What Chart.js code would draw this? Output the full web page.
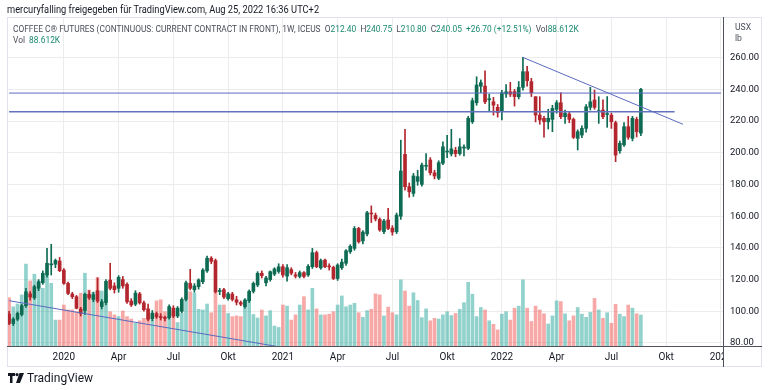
<!DOCTYPE html>
<html>
<head>
<meta charset="utf-8">
<script src="https://cdn.jsdelivr.net/npm/chart.js@4.4.0/dist/chart.umd.min.js"></script>
<style>
    html, body { margin: 0; padding: 0; background: #fff; }
    #wrap { position: relative; width: 768px; height: 390px; overflow: hidden; font-family: Roboto, 'Liberation Sans', sans-serif; }
    #chart { position: absolute; left: 0; top: 0; }
    .txt { position: absolute; white-space: nowrap; transform-origin: 0 0; line-height: 1; }
    .up { color: #1b8a6f; }
    .lbl { color: #4a4e59; }
</style>
</head>
<body>
<div id="wrap">
    <canvas id="chart" width="768" height="390"></canvas>
    <div class="txt" style="left:7px; top:5px; font-size:10px; color:#131722; transform:scaleX(0.93);">mercuryfalling freigegeben für TradingView.com, Aug 25, 2022 16:36 UTC+2</div>
    <div class="txt lbl" style="left:13px; top:25px; font-size:9px; transform:scaleX(0.93);">COFFEE C® FUTURES (CONTINUOUS: CURRENT CONTRACT IN FRONT), 1W, ICEUS&nbsp;&nbsp;O<span class="up">212.40</span>&nbsp;&nbsp;H<span class="up">240.75</span>&nbsp;&nbsp;L<span class="up">210.80</span>&nbsp;&nbsp;C<span class="up">240.05</span>&nbsp;&nbsp;<span class="up">+26.70 (+12.51%)</span>&nbsp;&nbsp;Vol<span class="up">88.612K</span></div>
    <div class="txt lbl" style="left:13px; top:36px; font-size:9px; transform:scaleX(0.93);">Vol&nbsp;&nbsp;<span class="up">88.612K</span></div>
    <div class="txt lbl" style="left:735px; top:23px; font-size:8.6px;">USX</div>
    <div class="txt lbl" style="left:735px; top:34px; font-size:8.6px;">lb</div>
    <div class="txt" style="left:8px; top:372px; font-size:12px; color:#131722;">
        <svg width="16" height="10" viewBox="0 0 16 10" style="vertical-align:-1px;margin-right:3px;">
            <path d="M0 0h7v3H4.5v7H2V3H0z" fill="#131722"/>
            <circle cx="9" cy="1.6" r="1.6" fill="#131722"/>
            <path d="M11.5 0H16L12 10H8z" fill="#131722"/>
        </svg>TradingView
    </div>
</div>
<script>
// Weekly KC1! candles, first week 2019-10-07
const firstWeek = Date.UTC(2019, 9, 7);
const weekCount = 170;          // candles plus empty weeks to the right
const monthNames = ['Jan', 'Feb', 'Mär', 'Apr', 'Mai', 'Jun', 'Jul', 'Aug', 'Sep', 'Okt', 'Nov', 'Dez'];
const quarterMonths = [0, 3, 6, 9];
const priceTicks = [80, 100, 120, 140, 160, 180, 200, 220, 240, 260];

const opens = [
    98.3, 92.3, 95.0, 98.0, 103.5, 111.0, 108.5, 114.5, 118.0, 123.0,
    129.3, 129.7, 131.7, 126.0, 117.6, 110.9, 109.2, 101.4, 100.5, 110.7,
    107.5, 113.0, 103.0, 105.5, 119.7, 116.0, 114.5, 120.0, 117.0, 106.5,
    104.5, 111.0, 105.3, 101.5, 95.2, 98.5, 96.5, 96.0, 96.0, 102.0,
    97.0, 100.0, 107.5, 117.6, 113.6, 115.5, 118.7, 125.5, 133.5, 132.0,
    112.5, 113.6, 108.0, 110.9, 107.3, 105.5, 103.0, 106.7, 112.6, 116.6,
    124.0, 118.0, 120.0, 123.5, 125.1, 128.1, 122.2, 126.3, 123.0, 122.0,
    124.4, 122.9, 128.1, 137.0, 127.4, 132.3, 128.3, 127.7, 120.7, 127.5,
    130.3, 137.6, 139.7, 152.3, 144.4, 148.8, 161.6, 160.5, 158.0, 150.2,
    157.6, 152.5, 150.2, 160.0, 199.0, 178.6, 174.4, 182.0, 180.1, 191.5,
    195.5, 187.4, 183.9, 193.4, 200.5, 199.3, 201.6, 199.5, 203.0, 202.8,
    219.6, 231.6, 242.0, 242.1, 233.5, 232.2, 228.7, 226.0, 237.2, 238.5,
    238.6, 235.4, 241.3, 251.2, 244.9, 235.4, 223.8, 221.8, 219.6, 221.1,
    227.4, 231.6, 222.8, 224.5, 221.1, 209.1, 211.2, 215.4, 228.7, 233.3,
    226.0, 227.0, 224.2, 223.8, 219.0, 201.3, 205.0, 216.5, 209.1, 221.1,
    212.4
];
const highs = [
    100.0, 96.0, 99.5, 104.5, 114.5, 112.5, 116.5, 120.0, 125.5, 139.7,
    142.3, 133.0, 134.0, 127.0, 118.5, 112.0, 110.0, 102.5, 111.5, 113.0,
    112.0, 121.0, 107.5, 120.0, 130.3, 118.0, 122.5, 122.0, 118.0, 108.0,
    113.0, 112.0, 106.5, 104.5, 100.5, 99.5, 98.5, 97.0, 104.0, 103.5,
    103.0, 108.5, 119.0, 126.5, 117.5, 120.5, 127.0, 134.9, 134.5, 133.0,
    114.5, 114.5, 112.0, 112.0, 109.5, 106.5, 108.0, 113.5, 118.5, 125.0,
    125.5, 122.0, 125.5, 127.5, 130.0, 129.5, 129.5, 127.5, 124.5, 125.5,
    125.0, 129.5, 139.7, 138.0, 133.0, 133.0, 130.0, 128.5, 130.0, 133.0,
    139.0, 142.0, 153.5, 153.0, 151.0, 163.0, 166.5, 162.0, 159.0, 158.0,
    165.0, 154.0, 162.0, 208.0, 214.8, 181.0, 187.0, 189.0, 193.5, 199.5,
    197.0, 189.0, 195.0, 207.0, 211.0, 214.8, 203.5, 209.0, 205.0, 223.0,
    234.5, 248.0, 246.0, 251.8, 237.0, 235.0, 230.5, 239.5, 243.0, 244.5,
    240.0, 245.0, 260.2, 254.5, 247.0, 235.4, 235.4, 223.0, 227.5, 230.0,
    233.0, 237.9, 227.0, 226.0, 222.0, 214.5, 217.0, 230.5, 241.3, 239.6,
    235.4, 233.5, 235.5, 225.0, 220.0, 207.5, 219.0, 223.0, 223.0, 222.5,
    240.75
];
const lows = [
    91.5, 91.0, 94.0, 97.0, 102.5, 107.0, 107.5, 113.0, 117.0, 121.5,
    122.9, 127.5, 125.0, 117.0, 110.5, 108.0, 101.5, 97.0, 98.0, 107.5,
    106.0, 105.5, 101.5, 104.0, 113.5, 111.5, 112.0, 114.5, 105.0, 103.0,
    103.5, 104.5, 100.0, 94.0, 94.0, 95.5, 94.5, 94.0, 95.0, 96.0,
    96.0, 99.0, 106.5, 113.5, 112.0, 114.0, 117.5, 124.5, 130.0, 111.5,
    110.5, 108.0, 107.0, 106.5, 104.0, 103.5, 102.0, 105.5, 111.5, 115.5,
    121.0, 116.0, 119.0, 122.5, 124.0, 121.5, 119.0, 123.0, 121.0, 121.0,
    121.0, 122.0, 127.0, 127.5, 126.5, 127.5, 126.0, 120.0, 119.5, 126.5,
    129.0, 136.5, 138.5, 143.0, 142.5, 147.5, 156.0, 157.0, 150.5, 149.0,
    151.5, 148.0, 149.0, 158.0, 176.5, 172.0, 172.5, 179.5, 179.0, 189.0,
    186.0, 183.5, 183.0, 192.5, 197.0, 198.0, 197.5, 198.5, 198.0, 202.0,
    218.5, 230.0, 238.0, 231.0, 226.0, 223.8, 222.5, 220.7, 235.0, 235.5,
    229.5, 234.0, 239.6, 242.0, 235.5, 219.5, 218.0, 209.8, 215.0, 213.3,
    225.0, 221.5, 218.5, 219.0, 209.0, 201.8, 209.5, 213.0, 227.0, 227.5,
    218.6, 221.5, 216.1, 215.4, 194.4, 199.7, 204.0, 208.5, 207.5, 210.0,
    210.8
];
const closes = [
    92.3, 95.1, 98.7, 103.5, 112.3, 109.0, 115.5, 118.6, 124.0, 130.3,
    129.9, 132.1, 125.6, 117.6, 111.3, 109.2, 101.9, 98.7, 110.7, 108.5,
    110.5, 106.5, 106.0, 118.9, 114.5, 113.6, 121.4, 116.0, 106.0, 104.0,
    111.5, 105.3, 101.0, 95.0, 98.9, 96.5, 96.0, 95.5, 103.0, 97.0,
    102.0, 107.5, 118.0, 114.5, 116.0, 119.8, 126.0, 133.5, 131.5, 112.3,
    113.0, 109.0, 111.0, 107.5, 105.7, 104.5, 107.0, 112.6, 117.6, 124.0,
    122.5, 121.0, 125.0, 126.7, 128.1, 122.9, 127.5, 124.0, 122.2, 124.4,
    122.0, 128.4, 137.0, 128.1, 132.0, 128.1, 128.0, 120.7, 129.2, 131.0,
    138.2, 141.0, 152.3, 143.9, 150.0, 162.2, 161.4, 158.3, 151.3, 157.0,
    152.3, 150.0, 160.7, 188.5, 178.6, 175.4, 185.4, 185.0, 192.3, 191.9,
    187.4, 185.4, 193.8, 203.8, 200.9, 202.5, 199.5, 203.8, 203.4, 221.8,
    232.9, 242.8, 244.3, 232.2, 233.9, 230.1, 225.3, 237.9, 238.5, 237.0,
    235.5, 241.3, 251.2, 245.5, 237.9, 223.8, 220.7, 219.6, 221.8, 228.0,
    231.6, 222.8, 225.0, 221.1, 209.8, 213.3, 215.4, 229.0, 232.2, 228.7,
    226.5, 222.8, 224.8, 219.6, 198.6, 206.0, 216.5, 209.8, 221.8, 213.3,
    240.05
];
// volume in thousands of contracts
const volumes = [
    138, 112, 120, 146, 234, 186, 205, 186, 165, 205,
    179, 74, 74, 117, 103, 103, 98, 151, 208, 160,
    154, 196, 157, 146, 98, 89, 84, 100, 84, 77,
    65, 72, 79, 89, 74, 129, 132, 98, 84, 98,
    67, 93, 132, 155, 151, 105, 103, 120, 95, 155,
    117, 117, 93, 84, 86, 84, 133, 155, 90, 80,
    103, 86, 101, 57, 53, 117, 114, 74, 89, 117,
    141, 103, 165, 106, 89, 89, 91, 98, 117, 143,
    112, 117, 122, 95, 82, 101, 105, 149, 146, 86,
    111, 95, 89, 189, 157, 114, 152, 130, 81, 106,
    72, 79, 77, 89, 98, 87, 93, 105, 124, 182,
    148, 84, 110, 103, 72, 62, 46, 91, 98, 74,
    108, 114, 189, 108, 70, 114, 103, 92, 63, 86,
    129, 127, 92, 72, 86, 110, 91, 82, 96, 136,
    103, 79, 95, 65, 119, 91, 84, 117, 108, 92,
    88.612
];
const volumeMax = 940;

// drawn lines: dates and prices at both ends
const trendDates = [['2022-02-07', '2022-10-31'], ['2019-10-07', '2021-02-08']];
const trendPrices = [[260.2, 218.0], [106.7, 74.9]];
const levelDates = [['2019-10-07', '2023-01-02'], ['2019-10-07', '2022-10-17']];
const levelPrices = [237.7, 225.9];

const UP = '#0e6b53', DOWN = '#b3262e';
const VOL_UP = 'rgba(38, 166, 154, 0.5)', VOL_DOWN = 'rgba(239, 83, 80, 0.5)';
const LINE = '#5b6abf';
const GRID = '#ececec';
const FONT = 'Roboto, "Liberation Sans", sans-serif';

const weeks = [];
for (let i = 0; i < weekCount; i++) weeks.push(new Date(firstWeek + i * 7 * 86400000));
const labels = weeks.map(d => d.toISOString().slice(0, 10));

function tickText(i) {
    if (i <= 0 || i >= weeks.length) return '';
    const m = weeks[i].getUTCMonth();
    if (m === weeks[i - 1].getUTCMonth() || !quarterMonths.includes(m)) return '';
    return m === 0 ? String(weeks[i].getUTCFullYear()) : monthNames[m];
}

const isUp = opens.map((o, i) => closes[i] >= o);
const candleColors = isUp.map(u => u ? UP : DOWN);
const volColors = isUp.map(u => u ? VOL_UP : VOL_DOWN);

function lineDataset(dates, prices, width, color) {
    return {
        type: 'line',
        data: dates.map((d, i) => ({ x: d, y: prices[i] })),
        borderColor: color || LINE,
        borderWidth: width,
        pointRadius: 0,
        order: 1
    };
}

const framePlugin = {
    id: 'frame',
    afterDraw(chart) {
        const { ctx, chartArea: a } = chart;
        const outerRight = a.right + 38, outerBottom = a.bottom + 20;
        ctx.save();
        // price axis column below the time axis line stays blank
        ctx.fillStyle = '#fff';
        ctx.fillRect(a.right + 1, a.bottom + 1, outerRight - a.right - 1, outerBottom - a.bottom - 1);
        ctx.strokeStyle = '#e0e3eb';
        ctx.lineWidth = 1;
        ctx.strokeRect(a.left + 0.5, a.top + 0.5, outerRight - a.left, outerBottom - a.top);
        ctx.strokeStyle = '#50535e';
        ctx.beginPath();
        ctx.moveTo(a.right + 0.5, a.top);
        ctx.lineTo(a.right + 0.5, outerBottom + 1);
        ctx.moveTo(a.left, a.bottom + 0.5);
        ctx.lineTo(outerRight + 1, a.bottom + 0.5);
        ctx.stroke();
        ctx.restore();
    }
};

new Chart(document.getElementById('chart'), {
    data: {
        labels: labels,
        datasets: [
            {
                type: 'bar',
                label: 'Volume',
                data: volumes,
                yAxisID: 'yv',
                backgroundColor: volColors,
                barThickness: 3,
                grouped: false,
                order: 4
            },
            {
                type: 'bar',
                label: 'Wick',
                data: lows.map((l, i) => [l, highs[i]]),
                backgroundColor: candleColors,
                barThickness: 1,
                grouped: false,
                order: 3
            },
            {
                type: 'bar',
                label: 'Body',
                data: opens.map((o, i) => [o, closes[i]]),
                backgroundColor: candleColors,
                barThickness: 3,
                minBarLength: 1,
                grouped: false,
                order: 2
            },
            lineDataset(trendDates[0], trendPrices[0], 1),
            lineDataset(trendDates[1], trendPrices[1], 1),
            lineDataset(levelDates[0], [levelPrices[0], levelPrices[0]], 1),
            lineDataset(levelDates[1], [levelPrices[1], levelPrices[1]], 1.3, '#6472bf')
        ]
    },
    options: {
        responsive: false,
        animation: false,
        devicePixelRatio: 1,
        layout: { padding: { left: 7, top: 17, right: 7, bottom: 24 } },
        plugins: { legend: { display: false }, tooltip: { enabled: false } },
        scales: {
            x: {
                type: 'category',
                offset: true,
                grid: { offset: false, color: GRID, drawTicks: false },
                border: { display: false },
                afterBuildTicks: axis => { axis.ticks = axis.ticks.filter(t => tickText(t.value) !== ''); },
                afterFit: axis => { axis.height = 20; },
                ticks: {
                    autoSkip: false,
                    maxRotation: 0,
                    padding: 5,
                    color: '#131722',
                    font: { size: 10, family: FONT },
                    callback: v => tickText(v)
                }
            },
            y: {
                position: 'right',
                min: 78.1,
                max: 285.7,
                afterBuildTicks: axis => { axis.ticks = priceTicks.map(v => ({ value: v })); },
                afterFit: axis => { axis.width = 38; },
                grid: { color: GRID, drawTicks: false },
                border: { display: false },
                ticks: {
                    padding: 7,
                    color: '#131722',
                    font: { size: 9.5, family: FONT },
                    callback: v => v.toFixed(2)
                }
            },
            yv: { display: false, min: 0, max: volumeMax }
        }
    },
    plugins: [framePlugin]
});
</script>
</body>
</html>
